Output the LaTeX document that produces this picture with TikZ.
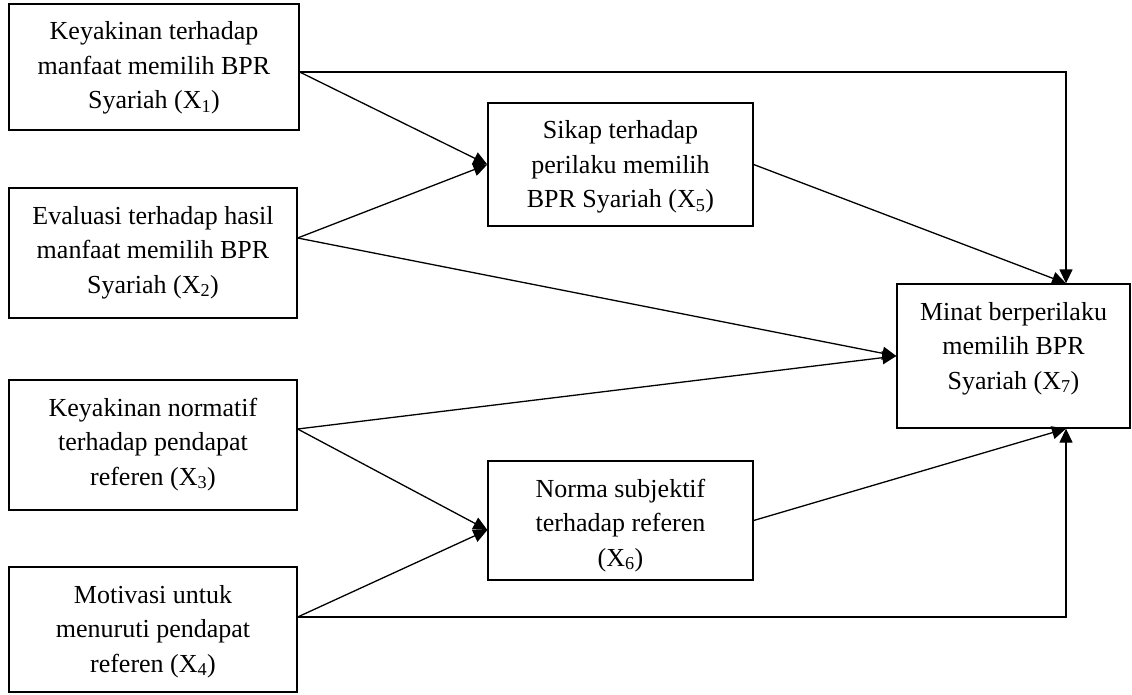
\documentclass[tikz,border=0pt]{standalone}
\usepackage{fontspec}
\setmainfont{Liberation Serif}
\usetikzlibrary{arrows.meta}
\newcommand{\boxtext}[3]{\parbox[c][#2][t]{#1}{\centering\fontsize{26}{34.5}\selectfont\rule{0pt}{36pt}#3}}
\newcommand{\xs}[1]{X\textsubscript{#1}}
\tikzset{
  varbox/.style={draw=black, line width=1.3pt, inner sep=0pt, fill=white},
  conn/.style={draw=black, line width=1.3pt},
  arr/.style={conn, -{Triangle[length=14pt,width=13pt]}}
}
\begin{document}
\begin{tikzpicture}[x=1pt,y=-1pt]
\useasboundingbox (0,0) rectangle (1132,695);
\node[varbox] (X1) at (154,67) {\boxtext{290pt}{126pt}{Keyakinan terhadap\\ manfaat memilih BPR\\ Syariah (\xs{1})}};
\node[varbox] (X2) at (153,253) {\boxtext{288pt}{130pt}{Evaluasi terhadap hasil\\ manfaat memilih BPR\\ Syariah (\xs{2})}};
\node[varbox] (X3) at (153,445) {\boxtext{288pt}{130pt}{Keyakinan normatif\\ terhadap pendapat\\ referen (\xs{3})}};
\node[varbox] (X4) at (153,629.5) {\boxtext{288pt}{125pt}{Motivasi untuk\\ menuruti pendapat\\ referen (\xs{4})}};
\node[varbox] (X5) at (620.5,164.5) {\boxtext{265pt}{123pt}{Sikap terhadap\\ perilaku memilih\\ BPR Syariah (\xs{5})}};
\node[varbox] (X6) at (620.5,520.5) {\boxtext{265pt}{119pt}{Norma subjektif\\ terhadap referen\\ (\xs{6})}};
\node[varbox] (X7) at (1013.5,356) {\boxtext{233pt}{144pt}{Minat berperilaku\\ memilih BPR\\ Syariah (\xs{7})}};
% connection points
\coordinate (o1) at ([yshift=-5pt]X1.east);
\coordinate (o2) at ([yshift=15pt]X2.east);
\coordinate (o3) at ([yshift=16pt]X3.east);
\coordinate (o4) at ([yshift=12.5pt]X4.east);
\coordinate (i6) at ([yshift=-9.5pt]X6.west);
\coordinate (t7) at ([xshift=52.5pt]X7.north);
\coordinate (b7) at ([xshift=52.5pt]X7.south);
% connectors
\draw[arr] (o1) -| (t7);
\draw[arr] (o1) -- (X5.west);
\draw[arr] (o2) -- (X5.west);
\draw[arr] (o2) -- (X7.west);
\draw[arr] (X5.east) -- (t7);
\draw[arr] (o3) -- (X7.west);
\draw[arr] (o3) -- (i6);
\draw[arr] (o4) -- (i6);
\draw[arr] (o4) -| (b7);
\draw[arr] (X6.east) -- (b7);
\end{tikzpicture}
\end{document}
